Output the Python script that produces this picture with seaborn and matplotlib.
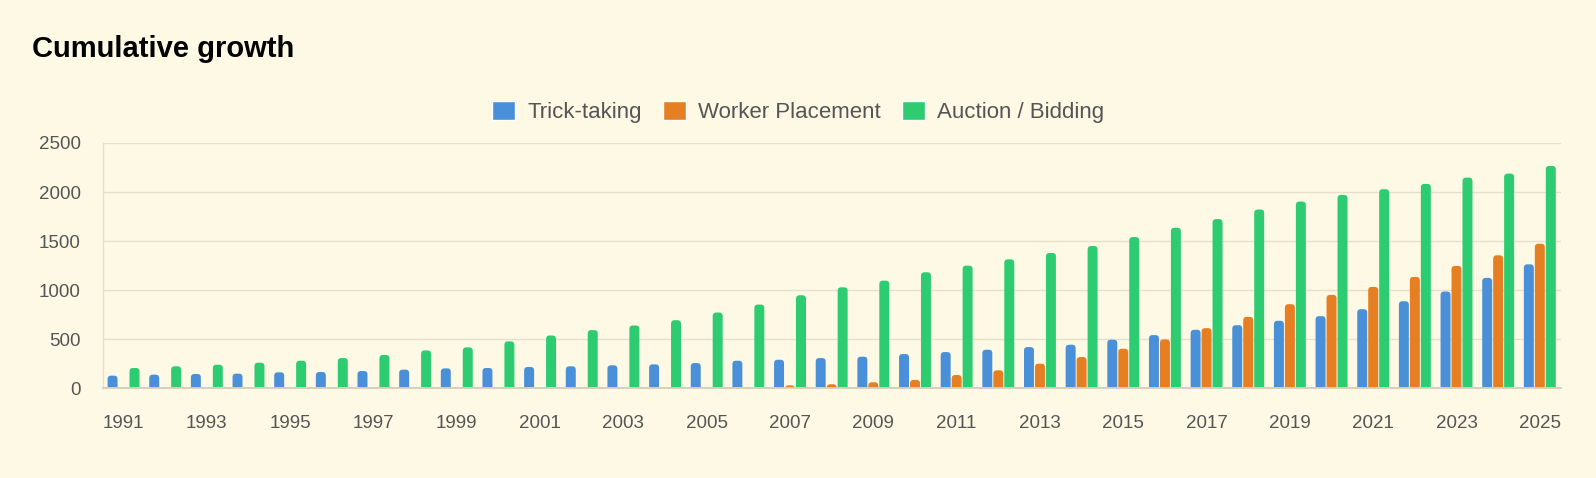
import matplotlib
matplotlib.use("Agg")
import matplotlib.pyplot as plt
from matplotlib.patches import FancyBboxPatch
import seaborn as sns
import numpy as np
import pandas as pd

years = list(range(1991, 2026))
trick_taking = [129, 139, 146, 149, 163, 166, 176, 190, 203, 207, 217, 224, 234, 244, 257,
                281, 291, 308, 322, 349, 369, 393, 420, 444, 495, 542, 596, 643, 688, 735,
                806, 887, 986, 1125, 1263]
worker_placement = [5, 5, 5, 5, 5, 5, 5, 5, 5, 5, 5, 5, 5, 6, 8,
                    12, 30, 41, 61, 85, 135, 183, 251, 318, 403, 498, 613, 728, 857, 952,
                    1033, 1135, 1247, 1355, 1473]
auction_bidding = [207, 224, 240, 261, 281, 308, 339, 386, 417, 478, 538, 593, 640, 694, 772,
                   853, 948, 1029, 1097, 1182, 1250, 1314, 1379, 1450, 1541, 1636, 1724, 1822, 1903, 1971,
                   2029, 2083, 2147, 2188, 2266]
series_names = ["Trick-taking", "Worker Placement", "Auction / Bidding"]
colors = ["#4a90d9", "#e67e22", "#2ecc71"]

df = pd.DataFrame({
    "year": years * 3,
    "value": trick_taking + worker_placement + auction_bidding,
    "series": sum([[n] * len(years) for n in series_names], []),
})

bg = "#fef9e4"
grid_c = "#e6dfcb"
text_c = "#555555"

sns.set_theme(style="white")
plt.rcParams["font.family"] = ["Liberation Sans", "DejaVu Sans"]

fig = plt.figure(figsize=(15.96, 4.78), dpi=100, facecolor=bg)
ax = fig.add_axes([0.06435, 0.1877, 0.9135, 0.5132])
ax.set_facecolor(bg)

sns.barplot(data=df, x="year", y="value", hue="series", hue_order=series_names,
            palette=colors, width=0.79, saturation=1, ax=ax, legend=True)

ax.set_ylim(0, 2500)
ax.set_xlim(-0.5, len(years) - 0.5)

# swap the plain bars for slightly narrower ones with rounded tops
x_px = ax.bbox.width / len(years)
y_px = ax.bbox.height / 2500
r = 3.5
for p in list(ax.patches):
    w = p.get_width()
    h = p.get_height()
    if not (0 < w < 1):
        continue
    x0 = p.get_x() + w * 0.045
    nw = w * 0.91
    off = 6 / y_px
    rb = FancyBboxPatch((x0, -off), nw, h + off,
                        boxstyle=f"round,pad=0,rounding_size={r / x_px}",
                        mutation_aspect=(1 / y_px) / (1 / x_px),
                        facecolor=p.get_facecolor(), edgecolor="none", zorder=2)
    ax.add_patch(rb)
    p.set_visible(False)

ax.set_yticks([0, 500, 1000, 1500, 2000, 2500])
ax.set_xticks(range(0, len(years), 2))
ax.set_xticklabels([str(y) for y in years[::2]])
ax.yaxis.grid(True, color=grid_c, linewidth=1.0)
ax.set_axisbelow(True)
ax.set_xlabel("")
ax.set_ylabel("")
for s in ["top", "right"]:
    ax.spines[s].set_visible(False)
ax.spines["left"].set_color(grid_c)
ax.spines["left"].set_linewidth(1.0)
ax.spines["bottom"].set_color("#d8cfba")
ax.spines["bottom"].set_linewidth(1.4)
ax.spines["bottom"].set_zorder(3)
ax.tick_params(axis="y", length=11, color=grid_c, width=1.0, pad=4.8, labelsize=13.5, labelcolor=text_c)
ax.tick_params(axis="x", length=0, pad=19, labelsize=13.5, labelcolor=text_c)

handles, labels = ax.get_legend_handles_labels()
ax.get_legend().remove()
fig.legend(handles, labels, loc="center", bbox_to_anchor=(0.5, 0.766), ncol=3, frameon=False,
           fontsize=16, labelcolor=text_c, handlelength=1.05, handleheight=1.0,
           handletextpad=0.53, columnspacing=0.95)

fig.text(0.02, 0.897, "Cumulative growth", fontsize=21, fontweight="bold", color="black", va="center")

fig.savefig("out.png", dpi=100, facecolor=bg)
